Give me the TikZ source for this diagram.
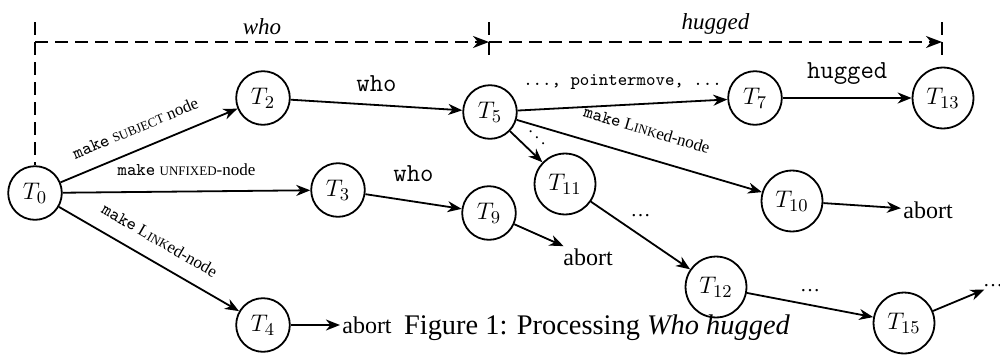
\documentclass[tikz,border=0pt]{standalone}
\usepackage[no-math]{fontspec}
\setmainfont{Liberation Serif}
\usetikzlibrary{arrows.meta}
\newcommand\fakesc[1]{{\fontsize{6.5}{8}\selectfont #1}}
\tikzset{
  st/.style={circle, draw, line width=0.9pt, minimum size=25pt, inner sep=4pt, font=\fontsize{13}{15}\selectfont},
  ed/.style={-{Stealth[length=7pt,width=5.5pt,inset=2.2pt]}, line width=0.9pt},
  dsh/.style={dash pattern=on 6.5pt off 3.5pt, line width=0.9pt},
  dsharr/.style={dsh, -{Stealth[length=8pt,width=6pt,inset=2.5pt]}},
  lab/.style={font=\fontsize{8.5}{10}\selectfont},
  ttbig/.style={font=\ttfamily\fontsize{13}{15}\selectfont},
  ttsmall/.style={font=\ttfamily\fontsize{9}{10}\selectfont},
  itlab/.style={font=\itshape\fontsize{11.5}{13}\selectfont},
  abortst/.style={inner sep=1pt, font=\fontsize{12}{14}\selectfont},
  dotst/.style={inner sep=1pt, font=\fontsize{10}{12}\selectfont},
  capst/.style={inner sep=0pt, font=\fontsize{14.2}{16}\selectfont}
}
\newcommand\mk{{\ttfamily\fontsize{9}{10}\selectfont make}}
\begin{document}
\begin{tikzpicture}[x=0.5pt, y=-0.5pt]
\useasboundingbox (0,0) rectangle (1000,354);

% states
\node[st] (t0) at (35,193) {$T_0$};
\node[st] (t2) at (263,98) {$T_2$};
\node[st] (t3) at (338,190) {$T_3$};
\node[st] (t4) at (263,325) {$T_4$};
\node[st] (t5) at (490,112) {$T_5$};
\node[st] (t9) at (489,213) {$T_9$};
\node[st] (t7) at (755,98) {$T_7$};
\node[st] (t13) at (943,98) {$T_{13}$};
\node[st] (t11) at (565,184) {$T_{11}$};
\node[st] (t10) at (792,201) {$T_{10}$};
\node[st] (t12) at (716,287) {$T_{12}$};
\node[st] (t15) at (904,323) {$T_{15}$};

% abort / continuation nodes
\node[abortst] (ab4) at (367,325) {abort};
\node[abortst] (ab9) at (588,257) {abort};
\node[abortst] (ab10) at (928,210) {abort};
\node[dotst] (d15) at (993,286) {\ldots};

% dashed top markers
\coordinate (d0t) at (35,22);
\coordinate (d0b) at (35,165);
\coordinate (d1) at (35,42);
\coordinate (d2) at (489,42);
\coordinate (d2t) at (489,22);
\coordinate (d2b) at (489,60);
\coordinate (d3) at (942,42);
\coordinate (d3t) at (942,22);
\coordinate (d3b) at (942,60);
\draw[dsh] (d0t) -- (d0b);
\draw[dsh] (d2t) -- (d2b);
\draw[dsh] (d3t) -- (d3b);
\draw[dsharr] (d1) -- node[itlab, above] {who} (d2);
\draw[dsharr] (d2) -- node[itlab, above] {hugged} (d3);

% edges
\draw[ed] (t0) -- node[lab, sloped, above, pos=0.47, yshift=4pt] {\mk{} \fakesc{SUBJECT} node} (t2);
\draw[ed] (t0) -- node[lab, above, pos=0.5, yshift=4pt] {\mk{} \fakesc{UNFIXED}-node} (t3);
\draw[ed] (t0) -- node[lab, sloped, above, pos=0.5, yshift=4pt] {\mk{} L\fakesc{INK}ed-node} (t4);
\draw[ed] (t2) -- node[ttbig, above, yshift=3pt] {who} (t5);
\draw[ed] (t3) -- node[ttbig, above, yshift=6pt] {who} (t9);
\draw[ed] (t5) -- node[ttsmall, above, yshift=4pt] {..., pointermove, ...} (t7);
\draw[ed] (t7) -- node[ttbig, above, yshift=3pt] {hugged} (t13);
\draw[ed] (t5) -- node[lab, sloped, above, pos=0.5, yshift=7pt] {\mk{} L\fakesc{INK}ed-node} (t10);
\draw[ed] (t5) -- (t11);
\node[lab] (dd) at (537,132) {$\ddots$};
\draw[ed] (t11) -- node[dotst, midway, above, yshift=8pt] {\ldots} (t12);
\draw[ed] (t12) -- node[dotst, above, yshift=5pt] {\ldots} (t15);
\draw[ed] (t4) -- (ab4);
\draw[ed] (t9) -- (ab9);
\draw[ed] (t10) -- (ab10);
\draw[ed] (t15) -- (d15);

% caption
\node[capst, anchor=base] (cap) at (597,334) {Figure 1: Processing \textit{Who hugged}};
\end{tikzpicture}
\end{document}
